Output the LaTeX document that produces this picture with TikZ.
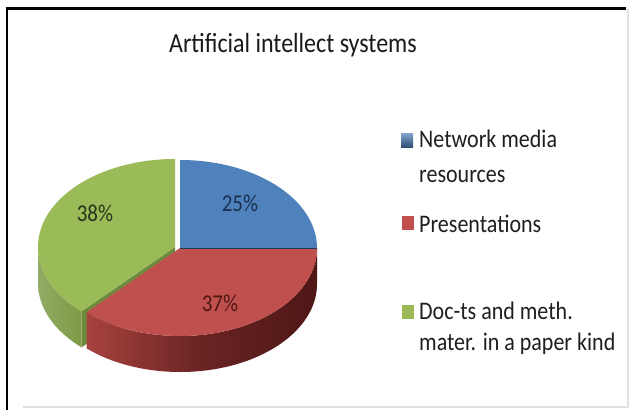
\documentclass[tikz,border=0pt]{standalone}
\usepackage{fontspec}
\usepackage{graphicx}
\setmainfont{Carlito}
\definecolor{pblue}{HTML}{4F81BD}
\definecolor{pred}{HTML}{C0504D}
\definecolor{pgreen}{HTML}{9BBB59}
\definecolor{pgreenside}{HTML}{7F9B48}
\definecolor{pgreencut}{HTML}{6E8A3C}
\definecolor{predsideL}{HTML}{A8423F}
\definecolor{predsideD}{HTML}{4E1716}
\definecolor{frameg}{HTML}{E2E2E2}
\definecolor{lblblue}{HTML}{1B2F4E}
\definecolor{lblgreen}{HTML}{27331A}
\definecolor{lblred}{HTML}{4F1614}
\newcommand{\vst}[1]{\scalebox{1}[1.15]{#1}}
\begin{document}
\begin{tikzpicture}[x=1pt,y=-1pt,
  legtext/.style={anchor=base west, inner sep=0pt, text=black!88, font=\fontsize{22}{22}\selectfont},
  pct/.style={anchor=center, inner sep=0pt, font=\fontsize{21}{21}\selectfont},
  legbox/.style={inner sep=0pt, minimum width=12pt, minimum height=14pt}]
\useasboundingbox (0,0) rectangle (635,410);
\fill[white] (0,0) rectangle (635,410);
% frame
\draw[frameg, line width=1.2pt] (628,9) -- (628,407) -- (23,407);
\draw[black, line width=2.6pt] (626,8.5) -- (7,8.5) -- (7,410);
% title
\node[anchor=base, inner sep=0pt, text=black!90, font=\fontsize{24}{24}\selectfont] (title) at (293,52) {\vst{Artificial intellect systems}};
% pie
\begin{scope}[shift={(180,248)}, y=1pt]
  % green slice (exploded)
  \begin{scope}[shift={(-5,1)}]
    \fill[pgreencut] (0,0) -- (-93.43,-64.36) -- (-93.43,-100.36) -- (0,-36) -- cycle;
    \shade[left color=pgreenside!85!white, right color=pgreenside] (-137,0) arc[start angle=180, end angle=227, x radius=137, y radius=88] -- (-93.43,-100.36) arc[start angle=227, end angle=180, x radius=137, y radius=88] -- cycle;
    \fill[pgreen] (0,0) -- (0,88) arc[start angle=90, end angle=227, x radius=137, y radius=88] -- cycle;
  \end{scope}
  % red slice
  \shade[left color=predsideL, right color=predsideD, middle color=predsideD!70!predsideL] (-93.43,-64.36) arc[start angle=-133, end angle=0, x radius=137, y radius=88] -- (137,-36) arc[start angle=0, end angle=-133, x radius=137, y radius=88] -- cycle;
  \fill[pred] (0,0) -- (137,0) arc[start angle=0, end angle=-133, x radius=137, y radius=88] -- cycle;
  % blue slice
  \fill[pblue] (0,0) -- (137,0) arc[start angle=0, end angle=90, x radius=137, y radius=88] -- cycle;
  \draw[pblue!45!black, line width=1pt] (0,0) -- (137,0);
\end{scope}
% percentages
\node[pct, text=lblblue] (p25) at (240,203) {\vst{25\%}};
\node[pct, text=lblgreen] (p38) at (95,213) {\vst{38\%}};
\node[pct, text=lblred] (p37) at (220,303) {\vst{37\%}};
% legend
\node[legbox, shade, top color=pblue!70!white, bottom color=pblue!60!black] (k1) at (407,140) {};
\node[legtext] (t1a) at (419,147) {\vst{Network media}};
\node[legtext] (t1b) at (419,182) {\vst{resources}};
\node[legbox, fill=pred] (k2) at (408,223) {};
\node[legtext] (t2) at (419,232) {\vst{Presentations}};
\node[legbox, fill=pgreen] (k3) at (408,311.5) {};
\node[legtext] (t3a) at (419,319) {\vst{Doc-ts and meth.}};
\node[legtext] (t3b) at (419,350) {\vst{mater. in a paper kind}};
\end{tikzpicture}
\end{document}
